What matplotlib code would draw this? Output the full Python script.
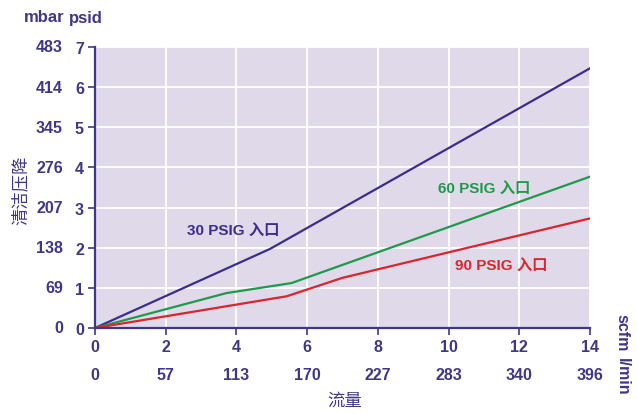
import matplotlib
matplotlib.use("Agg")
import matplotlib.pyplot as plt
import matplotlib.transforms as mtransforms

plt.rcParams['font.family'] = ['Liberation Sans', 'Noto Sans CJK SC', 'DejaVu Sans']

PURPLE = '#3f3787'
BG = '#dfd9ea'

# 流量 (scfm) vs 清洁压降 (psid)
flow_30 = [0, 4.95, 14]
drop_30 = [0, 1.97, 6.47]
flow_60 = [0, 3.72, 5.56, 14]
drop_60 = [0, 0.87, 1.12, 3.77]
flow_90 = [0, 5.42, 7.0, 14]
drop_90 = [0, 0.79, 1.25, 2.73]

scfm_ticks = [0, 2, 4, 6, 8, 10, 12, 14]
lmin_labels = ['0', '57', '113', '170', '227', '283', '340', '396']
psid_ticks = [0, 1, 2, 3, 4, 5, 6, 7]
mbar_labels = ['0', '69', '138', '207', '276', '345', '414', '483']

fig = plt.figure(figsize=(6.37, 4.14), dpi=100)
ax = fig.add_axes([95 / 637, 1 - 329 / 414, 495 / 637, 281 / 414])
ax.set_facecolor(BG)

ax.plot(flow_30, drop_30, color='#3d2c8d', lw=1.6, solid_joinstyle='round')
ax.plot(flow_60, drop_60, color='#1e9a4b', lw=1.6, solid_joinstyle='round')
ax.plot(flow_90, drop_90, color='#d9252d', lw=1.6, solid_joinstyle='round')

ax.set_xlim(0, 14)
ax.set_ylim(0, 7)
ax.set_xticks(scfm_ticks)
ax.set_yticks(psid_ticks)
ax.grid(True, color='white', lw=1.3)
ax.set_axisbelow(True)

for s in ['top', 'right']:
    ax.spines[s].set_visible(False)
for s in ['left', 'bottom']:
    ax.spines[s].set_color(PURPLE)
    ax.spines[s].set_linewidth(1.6)

ax.tick_params(axis='both', colors=PURPLE, labelcolor=PURPLE, length=5, width=1.2,
               labelsize=11.5)
ax.tick_params(axis='x', pad=3)
ax.tick_params(axis='y', pad=3)
for lab in ax.get_xticklabels() + ax.get_yticklabels():
    lab.set_fontweight('bold')

# mbar labels
ytrans = mtransforms.blended_transform_factory(ax.transAxes, ax.transData)
for v, lab in zip(psid_ticks, mbar_labels):
    ax.text(-32 / 495, v, lab, transform=ytrans, ha='right', va='center',
            fontsize=11.5, fontweight='bold', color=PURPLE)

# l/min labels
xtrans = mtransforms.blended_transform_factory(ax.transData, ax.transAxes)
for v, lab in zip(scfm_ticks, lmin_labels):
    ax.text(v, -47 / 281, lab, transform=xtrans, ha='center', va='center',
            fontsize=11.5, fontweight='bold', color=PURPLE)

# series labels
ax.text(2.6, 2.42, '30 PSIG 入口', color='#3d2c8d', fontsize=11, fontweight='bold',
        ha='left', va='center')
ax.text(9.7, 3.47, '60 PSIG 入口', color='#1e9a4b', fontsize=11, fontweight='bold',
        ha='left', va='center')
ax.text(10.18, 1.55, '90 PSIG 入口', color='#d9252d', fontsize=11, fontweight='bold',
        ha='left', va='center')

# headers and axis titles
fig.text(44 / 637, 1 - 18 / 414, 'mbar', ha='center', va='center', fontsize=12,
         fontweight='bold', color=PURPLE)
fig.text(86 / 637, 1 - 18 / 414, 'psid', ha='center', va='center', fontsize=12,
         fontweight='bold', color=PURPLE)
fig.text(622 / 637, 1 - 333 / 414, 'scfm', ha='center', va='center', fontsize=11.5,
         fontweight='bold', color=PURPLE, rotation=270)
fig.text(622 / 637, 1 - 377 / 414, 'l/min', ha='center', va='center', fontsize=11.5,
         fontweight='bold', color=PURPLE, rotation=270)
fig.text(345 / 637, 1 - 401 / 414, '流量', ha='center', va='center', fontsize=12.5,
         color=PURPLE)
fig.text(20 / 637, 1 - 190 / 414, '清洁压降', ha='center', va='center', fontsize=12.5,
         color=PURPLE, rotation=90)

fig.savefig('out.png', dpi=100, facecolor='white')
